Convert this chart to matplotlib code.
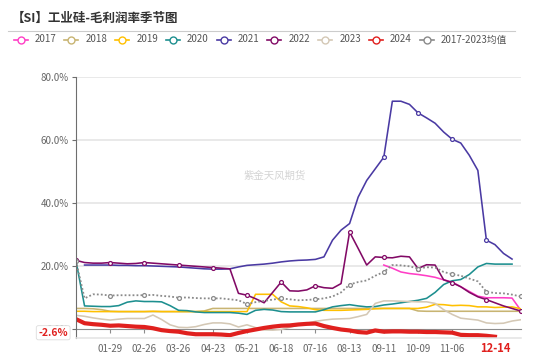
import numpy as np
import matplotlib
matplotlib.use('Agg')
import matplotlib.pyplot as plt
from matplotlib.lines import Line2D

plt.rcParams['font.family'] = ['Noto Sans CJK SC', 'DejaVu Sans']

N = None
title = '【SI】工业硅-毛利润率季节图'
watermark = '紫金天风期货'
n_weeks = 53
tick_pos = [4, 8, 12, 16, 20, 24, 28, 32, 36, 40, 44]
tick_labels = ['01-29', '02-26', '03-26', '04-23', '05-21', '06-18', '07-16', '08-13', '09-11', '10-09', '11-06']
last_label = '12-14'
last_idx = 49

s2017 = [N, N, N, N, N, N, N, N, N, N, N, N, N, N, N, N, N, N, N, N, N, N, N, N, N, N, N, N, N, N, N, N, N, N, N, N,
         20.2, 19.2, 18.0, 17.5, 17.2, 16.8, 16.3, 15.5, 14.8, 13.3, 11.8, 10.3, 9.8, 9.8, 9.8, 9.7, 5.9]
s2018 = [6.4, 6.4, 6.3, 6.0, 5.5, 5.4, 5.4, 5.4, 5.4, 5.4, 5.4, 5.4, 5.4, 5.4, 5.4, 5.6, 6.4, 6.4, 6.4, 6.4,
         6.4, 6.4, 6.4, 6.4, 6.4, 6.4, 6.4, 6.4, 6.4, 6.4, 6.4, 6.4, 6.4, 6.4, 6.4, 6.4, 6.4, 6.4, 6.4, 6.4,
         5.6, 5.5, 5.5, 5.5, 5.5, 5.5, 5.5, 5.5, 5.5, 5.5, 5.5, 5.5, 5.5]
s2019 = [5.5, 5.5, 5.4, 5.4, 5.4, 5.4, 5.4, 5.4, 5.4, 5.5, 5.4, 5.4, 5.4, 5.4, 5.4, 5.4, 5.4, 5.4, 5.4, 5.4,
         5.4, 10.9, 10.9, 10.9, 8.5, 7.2, 7.0, 6.6, 6.0, 5.8, 5.8, 5.8, 5.9, 6.0, 6.1, 6.3, 6.4, 6.4, 6.4, 6.4,
         6.4, 6.8, 7.7, 7.6, 7.3, 7.4, 7.3, 6.9, 6.9, 6.7, 6.8, 6.9, 6.3]
s2020 = [21.5, 7.2, 7.1, 7.0, 7.0, 7.3, 8.4, 8.8, 8.6, 8.6, 8.5, 7.3, 5.8, 5.7, 5.3, 5.1, 5.1, 5.1, 5.1, 4.9,
         4.5, 5.8, 6.1, 5.9, 5.4, 5.3, 5.3, 5.3, 5.3, 6.0, 6.9, 7.3, 7.6, 7.2, 6.9, 7.0, 7.5, 7.8, 8.2, 8.6,
         9.0, 9.6, 11.5, 14.0, 15.2, 15.6, 17.2, 19.6, 20.7, 20.5, 20.5, 20.5, N]
s2021 = [N, 20.2, 20.2, 20.2, 20.2, 20.1, 20.1, 20.0, 20.0, 19.9, 19.8, 19.7, 19.6, 19.4, 19.2, 19.0, 18.9, 18.9, 19.0, 19.6,
         20.1, 20.3, 20.5, 20.8, 21.2, 21.5, 21.7, 21.8, 22.0, 22.8, 28.1, 31.3, 33.4, 41.8, 47.1, 50.8, 54.5, 72.3, 72.3, 71.3,
         68.6, 67.0, 65.3, 62.5, 60.2, 59.0, 55.1, 50.3, 28.1, 26.7, 23.9, 22.1, N]
s2022 = [21.7, 21.0, 20.8, 20.8, 21.0, 20.8, 20.6, 20.7, 21.0, 20.8, 20.6, 20.4, 20.2, 20.0, 19.8, 19.6, 19.4, 19.2, 19.0, 11.2,
         10.6, 9.5, 8.2, 11.5, 14.8, 12.0, 11.9, 12.3, 13.6, 13.0, 12.8, 14.3, 30.7, 25.5, 20.2, 22.8, 22.6, 22.5, 23.0, 22.8,
         19.1, 20.3, 20.2, 15.5, 14.6, 13.3, 11.5, 10.1, 9.2, 8.2, 7.2, 6.4, 5.6]
s2023 = [4.2, 3.9, 3.4, 3.0, 2.7, 3.0, 3.2, 3.2, 3.2, 4.3, 2.9, 1.2, 0.4, 0.3, 0.6, 1.3, 1.8, 1.8, 1.5, 0.5,
         1.2, 0.3, -0.4, -0.5, -0.3, 0.4, 1.1, 1.7, 2.3, 2.7, 3.0, 3.1, 3.2, 3.8, 4.5, 8.0, 8.8, 8.8, 8.7, 8.6,
         8.5, 8.5, 8.0, 6.0, 4.5, 3.3, 3.0, 2.7, 1.8, 1.6, 1.7, 2.4, 2.8]
s2024 = [3.0, 1.7, 1.4, 1.2, 0.9, 1.0, 0.8, 0.6, 0.5, 0.1, -0.5, -0.8, -1.0, -1.5, -1.8, -1.8, -1.8, -1.9, -2.1, -1.4,
         -0.8, -0.3, 0.2, 0.6, 0.9, 1.0, 1.3, 1.5, 1.6, 0.8, 0.2, -0.3, -0.6, -1.1, -1.3, -0.6, -1.0, -0.9, -0.9, -1.0,
         -1.0, -1.1, -1.1, -1.2, -1.3, -2.0, -2.1, -2.1, -2.3, -2.6, N, N, N]
s_avg = [21.5, 9.6, 10.9, 10.8, 10.5, 10.6, 10.6, 10.6, 10.6, 10.7, 10.4, 10.2, 9.8, 9.9, 9.7, 9.6, 9.6, 9.6, 9.3, 9.0,
         7.8, 8.4, 8.8, 9.2, 9.6, 9.3, 9.0, 9.1, 9.3, 9.6, 10.2, 11.5, 14.0, 14.8, 15.3, 16.8, 18.0, 20.2, 20.1, 19.8,
         19.1, 19.5, 19.4, 18.0, 17.3, 16.8, 15.9, 15.0, 11.7, 11.3, 11.2, 10.8, 10.2]

names = ['2017', '2018', '2019', '2020', '2021', '2022', '2023', '2024', '2017-2023均值']
series = [s2017, s2018, s2019, s2020, s2021, s2022, s2023, s2024, s_avg]
colors = ['#ff3ec6', '#c8b472', '#ffc000', '#1d8f8f', '#4a3aa3', '#820a66', '#d4c8b5', '#e0201e', '#8a8a8a']
widths = [1.15, 1.15, 1.15, 1.15, 1.15, 1.15, 1.15, 3.0, 1.3]
styles = ['-', '-', '-', '-', '-', '-', '-', '-', (0, (1, 1.2))]
marks = [None, None, None, None, [36, 40, 44, 48], list(range(0, 53, 4)), None, None, list(range(0, 53, 4))]

W, H = 550, 357
fig = plt.figure(figsize=(W / 100, H / 100), dpi=100)
ax = fig.add_axes([76 / W, 19 / H, 444.6 / W, 261 / H])
x = np.arange(n_weeks)
ymin, ymax = -3, 80
for s, c, lw, ls, mk in zip(series, colors, widths, styles, marks):
    y = np.array([np.nan if v is None else v for v in s], dtype=float)
    kw = {}
    if mk is not None:
        kw = dict(marker='o', markevery=mk, markersize=2.8, markerfacecolor='white',
                  markeredgecolor=c, markeredgewidth=0.9)
    ax.plot(x, y, color=c, lw=lw, ls=ls, solid_joinstyle='round', **kw)

ax.set_xlim(0, n_weeks - 1)
ax.set_ylim(ymin, ymax)
yt = [0, 20, 40, 60, 80]
ax.set_yticks(yt)
ax.set_yticklabels([f'{v:.1f}%' for v in yt])
for v in yt[1:]:
    ax.axhline(v, color='#e3e3e3', lw=1.1, zorder=0)
for sp in ['top', 'right']:
    ax.spines[sp].set_visible(False)
ax.spines['left'].set_color('#6e6e6e')
ax.spines['bottom'].set_color('#e3e3e3')
ax.spines['bottom'].set_linewidth(1.1)
ax.tick_params(axis='y', length=3, color='#6e6e6e', labelcolor='#666666', labelsize=7, pad=2)
ax.set_xticks(tick_pos)
ax.set_xticklabels(tick_labels)
ax.tick_params(axis='x', length=0, labelcolor='#666666', labelsize=7, pad=4)

sec = ax.secondary_xaxis((0 - ymin) / (ymax - ymin))
sec.set_xticks(tick_pos)
sec.tick_params(axis='x', length=3, color='#8c8c8c', labelbottom=False)
sec.spines['bottom'].set_color('#8c8c8c')

lastv = s2024[last_idx]
ax.annotate(f'{lastv:.1f}%', xy=(0, lastv), xycoords=('axes fraction', 'data'),
            xytext=(-8, 4), textcoords='offset pixels', ha='right', va='center',
            color='#e0201e', fontsize=7.5, fontweight='bold', zorder=10,
            bbox=dict(boxstyle='round,pad=0.2', fc='white', ec='#dddddd', lw=0.6), annotation_clip=False)
ax.annotate(last_label, xy=(last_idx, 0), xycoords=('data', 'axes fraction'),
            xytext=(0, -10), textcoords='offset pixels', ha='center', va='center',
            color='#e0201e', fontsize=8, fontweight='bold', annotation_clip=False)

fig.text(275 / W, 1 - 176 / H, watermark, color='#d4d4d4', fontsize=7.5, ha='center', va='center')
fig.text(12 / W, 1 - 18 / H, title, fontsize=9, fontweight='bold', color='#333333', va='center', ha='left')
fig.add_artist(Line2D([8 / W, 515 / W], [1 - 31 / H, 1 - 31 / H], color='#cccccc', lw=0.8, transform=fig.transFigure))

ly = 1 - 39.5 / H
for i, (nm, c) in enumerate(zip(names, colors)):
    cx = 20.7 + 50.75 * i
    fig.add_artist(Line2D([(cx - 7) / W, (cx + 7) / W], [ly, ly], color=c, lw=1.2, transform=fig.transFigure))
    fig.add_artist(Line2D([cx / W], [ly], marker='o', markersize=5, markerfacecolor='white',
                          markeredgecolor=c, markeredgewidth=1.0, transform=fig.transFigure))
    fig.text((cx + 14) / W, ly, nm, fontsize=7, color='#555555', va='center', ha='left')

fig.savefig('out.png', dpi=100)
